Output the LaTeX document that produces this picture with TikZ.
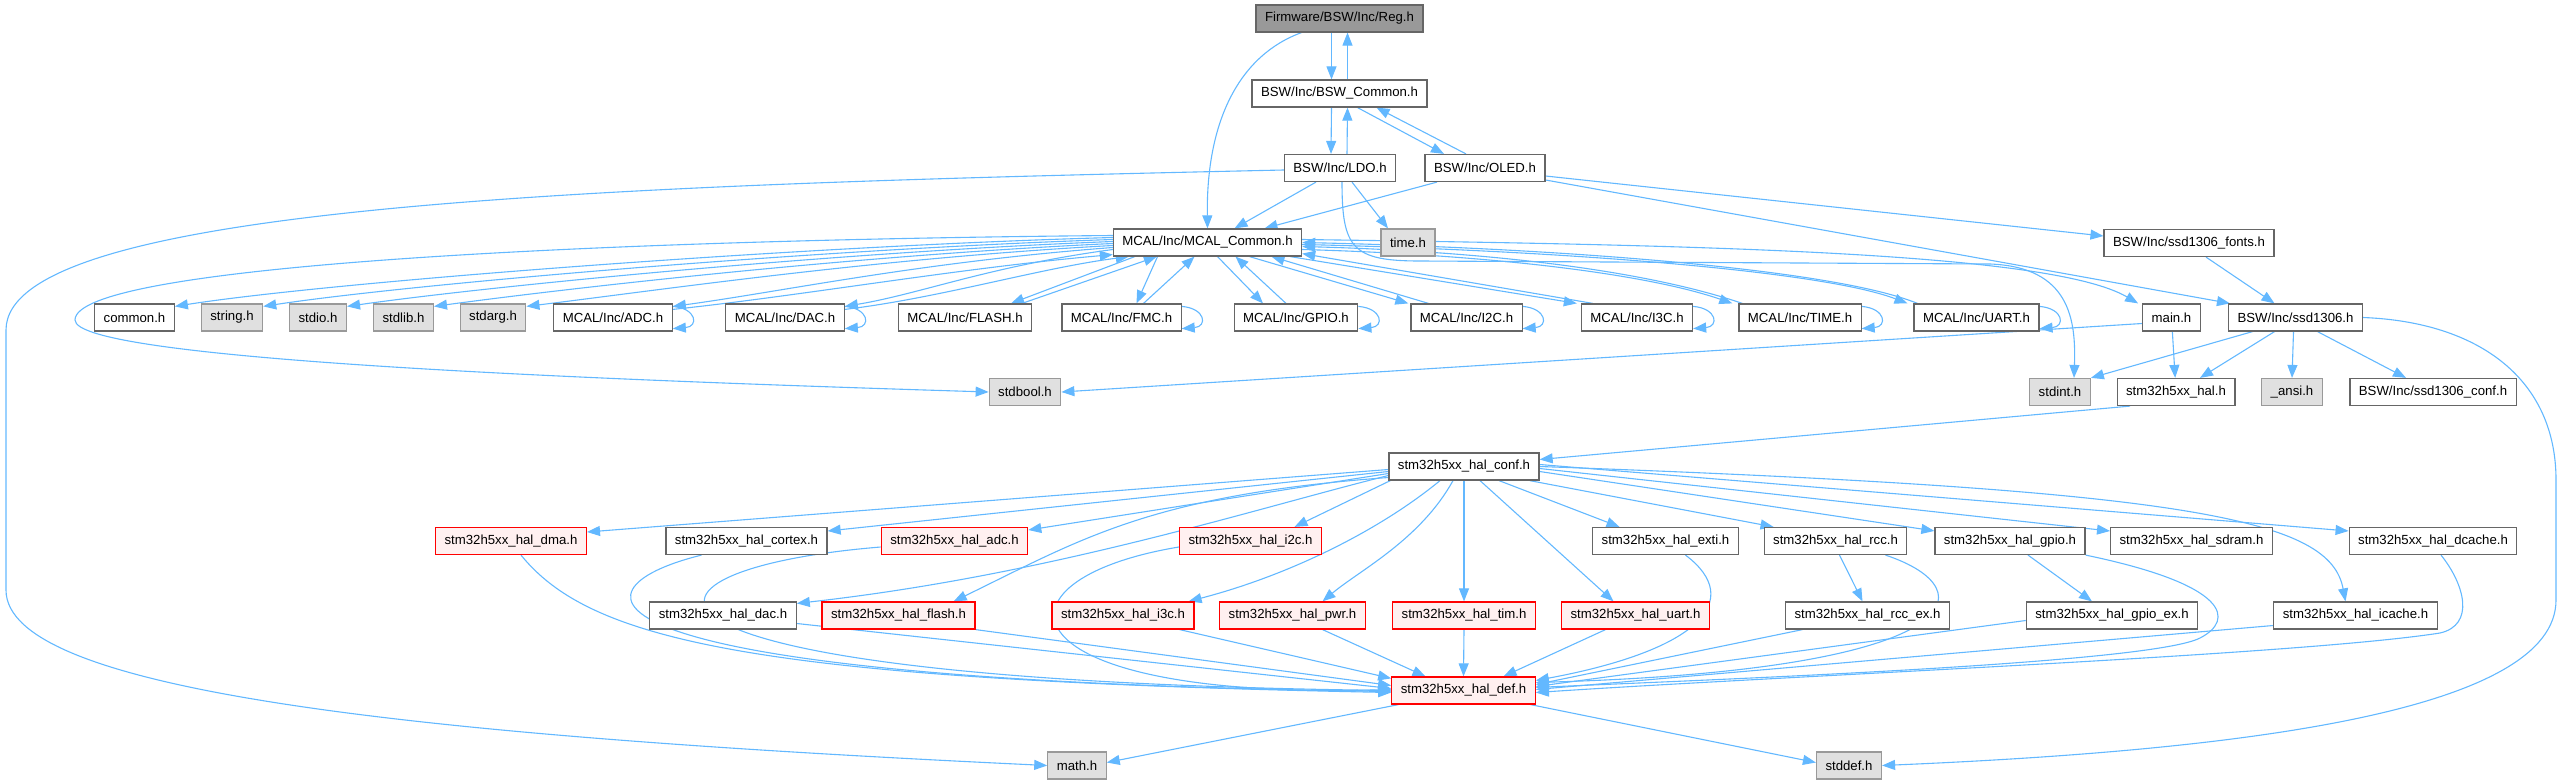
\documentclass[tikz,border=0pt]{standalone}
\usepackage{fontspec}
\setmainfont{Liberation Sans}
\usetikzlibrary{arrows.meta,backgrounds}
\definecolor{deplink}{RGB}{99,184,255}
\definecolor{boxline}{RGB}{102,102,102}
\definecolor{sysline}{RGB}{153,153,153}
\definecolor{sysfill}{RGB}{224,224,224}
\definecolor{rootfill}{RGB}{153,153,153}
\definecolor{redfill}{RGB}{255,240,240}

\tikzset{
  incbox/.style={draw=boxline, fill=white, line width=1.2pt, inner xsep=9pt, inner ysep=0pt,
    minimum height=27pt, font=\fontsize{13.2pt}{15pt}\selectfont},
  sysbox/.style={incbox, draw=sysline, fill=sysfill},
  redbox/.style={incbox, draw=red, fill=redfill},
  rootbox/.style={incbox, draw=boxline, fill=rootfill},
  dep/.style={draw=deplink, line width=1.1pt, -{Triangle[length=13pt,width=10pt]}},
}

\begin{document}
\begin{tikzpicture}[x=1pt, y=-1pt]
\useasboundingbox (0,0) rectangle (2562,784);
\node[rootbox] (reg) at (1339.5,18.5) {Firmware/BSW/Inc/Reg.h};
\node[incbox] (bswcommon) at (1339.5,93.5) {BSW/Inc/BSW\_Common.h};
\node[incbox] (ldo) at (1340,168) {BSW/Inc/LDO.h};
\node[incbox] (oled) at (1485,168) {BSW/Inc/OLED.h};
\node[incbox] (mcalcommon) at (1207.5,242.5) {MCAL/Inc/MCAL\_Common.h};
\node[sysbox] (timeh) at (1408,242.5) {time.h};
\node[incbox] (sfonts) at (2189,243) {BSW/Inc/ssd1306\_fonts.h};
\node[incbox] (commonh) at (134.5,317.5) {common.h};
\node[sysbox] (stringh) at (232,317.5) {string.h};
\node[sysbox] (stdioh) at (318,317.5) {stdio.h};
\node[sysbox] (stdlibh) at (403.5,317.5) {stdlib.h};
\node[sysbox] (stdargh) at (493,317.5) {stdarg.h};
\node[incbox] (madc) at (613,317.5) {MCAL/Inc/ADC.h};
\node[incbox] (mdac) at (785,317.5) {MCAL/Inc/DAC.h};
\node[incbox] (mflash) at (965,317.5) {MCAL/Inc/FLASH.h};
\node[incbox] (mfmc) at (1121.5,317.5) {MCAL/Inc/FMC.h};
\node[incbox] (mgpio) at (1296,317.5) {MCAL/Inc/GPIO.h};
\node[incbox] (mi2c) at (1466.5,317.5) {MCAL/Inc/I2C.h};
\node[incbox] (mi3c) at (1637,317.5) {MCAL/Inc/I3C.h};
\node[incbox] (mtime) at (1800,317.5) {MCAL/Inc/TIME.h};
\node[incbox] (muart) at (1976.5,317.5) {MCAL/Inc/UART.h};
\node[incbox] (mainh) at (2171.5,317.5) {main.h};
\node[incbox] (ssd) at (2295.5,317.5) {BSW/Inc/ssd1306.h};
\node[sysbox] (stdbool) at (1025,392) {stdbool.h};
\node[sysbox] (stdint) at (2060,392) {stdint.h};
\node[incbox] (hal) at (2176,392) {stm32h5xx\_hal.h};
\node[sysbox] (ansi) at (2292,392) {\_ansi.h};
\node[incbox] (sconf) at (2433,392) {BSW/Inc/ssd1306\_conf.h};
\node[incbox] (halconf) at (1464,466.5) {stm32h5xx\_hal\_conf.h};
\node[redbox] (haldma) at (511,541) {stm32h5xx\_hal\_dma.h};
\node[incbox] (halcortex) at (746.5,541) {stm32h5xx\_hal\_cortex.h};
\node[redbox] (haladc) at (954.5,541) {stm32h5xx\_hal\_adc.h};
\node[redbox] (hali2c) at (1250.5,541) {stm32h5xx\_hal\_i2c.h};
\node[incbox] (halexti) at (1665.5,541) {stm32h5xx\_hal\_exti.h};
\node[incbox] (halrcc) at (1835.5,541) {stm32h5xx\_hal\_rcc.h};
\node[incbox] (halgpio) at (2010,541) {stm32h5xx\_hal\_gpio.h};
\node[incbox] (halsdram) at (2191.5,541) {stm32h5xx\_hal\_sdram.h};
\node[incbox] (haldcache) at (2433,541) {stm32h5xx\_hal\_dcache.h};
\node[incbox] (haldac) at (723,615.5) {stm32h5xx\_hal\_dac.h};
\node[redbox] (halflash) at (898.5,615.5) {stm32h5xx\_hal\_flash.h};
\node[redbox] (hali3c) at (1123,615.5) {stm32h5xx\_hal\_i3c.h};
\node[redbox] (halpwr) at (1292.5,615.5) {stm32h5xx\_hal\_pwr.h};
\node[redbox] (haltim) at (1464,615.5) {stm32h5xx\_hal\_tim.h};
\node[redbox] (haluart) at (1635.5,615.5) {stm32h5xx\_hal\_uart.h};
\node[incbox] (halrccex) at (1867.5,615.5) {stm32h5xx\_hal\_rcc\_ex.h};
\node[incbox] (halgpioex) at (2112,615.5) {stm32h5xx\_hal\_gpio\_ex.h};
\node[incbox] (halicache) at (2355.5,615.5) {stm32h5xx\_hal\_icache.h};
\node[redbox] (haldef) at (1463.5,690.5) {stm32h5xx\_hal\_def.h};
\node[sysbox] (mathh) at (1077,765.5) {math.h};
\node[sysbox] (stddefh) at (1849,765.5) {stddef.h};

\begin{pgfonlayer}{background}
\draw[dep] ([xshift=-8]reg.south) -- ([xshift=-8]bswcommon.north);
\draw[dep] ([xshift=8]bswcommon.north) -- ([xshift=8]reg.south);
\draw[dep] ([xshift=-38]reg.south) .. controls (1240,55) and (1206,120) .. (mcalcommon.north);
\draw[dep] ([xshift=-8]bswcommon.south) -- ([xshift=-9]ldo.north);
\draw[dep] ([xshift=7]ldo.north) -- ([xshift=8]bswcommon.south);
\draw[dep] ([xshift=18]bswcommon.south) -- ([xshift=-41]oled.north);
\draw[dep] ([xshift=-19]oled.north) -- ([xshift=37]bswcommon.south);
\draw[dep] ([xshift=-24]ldo.south) -- ([xshift=27]mcalcommon.north);
\draw[dep] ([xshift=12]ldo.south) -- ([xshift=-20]timeh.north);
\draw[dep] ([yshift=-2]ldo.west) .. controls (600,185) and (6,205) .. (6,330) -- (6,590) .. controls (6,690) and (400,735) .. (mathh.west);
\draw[dep] ([xshift=2]ldo.south) .. controls (1342,248) and (1352,261) .. (1420,261) -- (1990,264) .. controls (2070,267) and (2076,320) .. ([xshift=14]stdint.north);
\draw[dep] ([xshift=-48]oled.south) -- ([xshift=57]mcalcommon.north);
\draw[dep] ([yshift=-8]oled.east) -- ([yshift=7]sfonts.west);
\draw[dep] ([yshift=-12]oled.east) -- ([xshift=2]ssd.north west);
\draw[dep] ([xshift=17]sfonts.south) -- ([xshift=-21]ssd.north);
\draw[dep] ([xshift=-43]ssd.south) -- (stdint.north east);
\draw[dep] ([xshift=-21]ssd.south) -- ([xshift=24]hal.north);
\draw[dep] ([xshift=-2]ssd.south) -- (ansi.north);
\draw[dep] ([xshift=22]ssd.south) -- ([xshift=-27]sconf.north);
\draw[dep] (ssd.east) .. controls (2480,322) and (2556,380) .. (2556,480) -- (2556,600) .. controls (2556,710) and (2250,750) .. (stddefh.east);
\draw[dep] (mainh) -- (hal);
\draw[dep] ([yshift=-6]mainh.west) -- (stdbool.east);
\draw[dep] ([xshift=-46]hal.south) -- ([yshift=7]halconf.east);

\draw[dep] ([yshift=7]mcalcommon.west) .. controls (600,240) and (75,265) .. (75,320) .. controls (75,360) and (600,380) .. (stdbool.west);
\draw[dep] ([yshift=5]mcalcommon.west) .. controls (800,246) and (330,282) .. ([yshift=-3]commonh.north east);
\draw[dep] ([yshift=3]mcalcommon.west) .. controls (820,249) and (410,284) .. ([yshift=-3]stringh.north east);
\draw[dep] ([yshift=1]mcalcommon.west) .. controls (840,252) and (490,286) .. ([yshift=-3]stdioh.north east);
\draw[dep] ([yshift=-1]mcalcommon.west) .. controls (860,255) and (570,288) .. ([yshift=-3]stdlibh.north east);
\draw[dep] ([yshift=-3]mcalcommon.west) .. controls (880,258) and (660,290) .. ([yshift=-3]stdargh.north east);
\draw[dep] ([yshift=-5]mcalcommon.west) .. controls (920,262) and (780,292) .. ([yshift=-3]madc.north east);
\draw[dep] ([yshift=-6]madc.north east) .. controls (800,296) and (960,268) .. ([yshift=2]mcalcommon.south west);
\draw[dep] ([yshift=-7]mcalcommon.west) .. controls (990,266) and (920,294) .. ([yshift=-3]mdac.north east);
\draw[dep] ([yshift=-6]mdac.north east) .. controls (940,298) and (1040,268) .. ([xshift=16]mcalcommon.south west);
\draw[dep] ([xshift=22]mcalcommon.south west) -- ([xshift=46]mflash.north);
\draw[dep] ([xshift=57]mflash.north) -- ([xshift=44]mcalcommon.south west);
\draw[dep] ([xshift=-50]mcalcommon.south) -- ([xshift=15]mfmc.north);
\draw[dep] ([xshift=22]mfmc.north) -- ([xshift=-13]mcalcommon.south);
\draw[dep] ([xshift=10]mcalcommon.south) -- ([xshift=-33]mgpio.north);
\draw[dep] ([xshift=-10]mgpio.north) -- ([xshift=28]mcalcommon.south);
\draw[dep] ([xshift=42]mcalcommon.south) -- ([xshift=-2]mi2c.north west);
\draw[dep] ([xshift=-38]mi2c.north) -- ([xshift=64]mcalcommon.south);
\draw[dep] ([xshift=-12]mcalcommon.south east) -- ([xshift=-4]mi3c.north west);
\draw[dep] ([xshift=12]mi3c.north west) -- ([yshift=3]mcalcommon.south east);
\draw[dep] ([yshift=-7]mcalcommon.east) .. controls (1500,255) and (1650,275) .. ([xshift=-6]mtime.north west);
\draw[dep] ([xshift=4]mtime.north west) .. controls (1650,272) and (1500,252) .. ([yshift=-4]mcalcommon.east);
\draw[dep] ([yshift=-2]mcalcommon.east) .. controls (1550,250) and (1820,270) .. ([xshift=-6]muart.north west);
\draw[dep] ([xshift=4]muart.north west) .. controls (1830,268) and (1550,248) .. (mcalcommon.east);
\draw[dep] ([yshift=3]mcalcommon.east) .. controls (1700,245) and (2050,252) .. ([xshift=-4]mainh.north west);
\draw[dep] ([yshift=-3]madc.north east) .. controls +(24,2) and +(26,-2) .. ([yshift=3]madc.south east);
\draw[dep] ([yshift=-3]mdac.north east) .. controls +(24,2) and +(26,-2) .. ([yshift=3]mdac.south east);
\draw[dep] ([yshift=-3]mfmc.north east) .. controls +(24,2) and +(26,-2) .. ([yshift=3]mfmc.south east);
\draw[dep] ([yshift=-3]mgpio.north east) .. controls +(24,2) and +(26,-2) .. ([yshift=3]mgpio.south east);
\draw[dep] ([yshift=-3]mi2c.north east) .. controls +(24,2) and +(26,-2) .. ([yshift=3]mi2c.south east);
\draw[dep] ([yshift=-3]mi3c.north east) .. controls +(24,2) and +(26,-2) .. ([yshift=3]mi3c.south east);
\draw[dep] ([yshift=-3]mtime.north east) .. controls +(24,2) and +(26,-2) .. ([yshift=3]mtime.south east);
\draw[dep] ([yshift=-3]muart.north east) .. controls +(24,2) and +(26,-2) .. ([yshift=3]muart.south east);

\draw[dep] ([yshift=-3]halconf.west) -- ([yshift=9]haldma.east);
\draw[dep] ([yshift=-5]halconf.west) -- ([yshift=10]halcortex.east);
\draw[dep] ([yshift=-7]halconf.west) -- ([yshift=11]haladc.east);
\draw[dep] ([xshift=2]halconf.south west) -- ([xshift=44]hali2c.north);
\draw[dep] ([yshift=-9]halconf.west) .. controls (1250,510) and (1050,575) .. ([yshift=-2]haldac.north east);
\draw[dep] ([yshift=-11]halconf.west) .. controls (1150,495) and (1080,540) .. ([xshift=-22]halflash.north east);
\draw[dep] ([xshift=-24]halconf.south) .. controls (1380,530) and (1290,575) .. ([xshift=-6]hali3c.north east);
\draw[dep] ([xshift=-11]halconf.south) .. controls (1420,540) and (1360,570) .. ([xshift=30]halpwr.north);
\draw[dep] (halconf.south) -- (haltim.north);
\draw[dep] ([xshift=16]halconf.south) -- ([xshift=-22]haluart.north);
\draw[dep] ([xshift=35]halconf.south) -- ([xshift=-46]halexti.north);
\draw[dep] ([xshift=-10]halconf.south east) -- ([xshift=10]halrcc.north west);
\draw[dep] ([yshift=-5]halconf.east) -- ([yshift=-4]halgpio.north west);
\draw[dep] ([yshift=-2]halconf.east) -- ([yshift=10]halsdram.west);
\draw[dep] ([yshift=2]halconf.east) -- ([yshift=10]haldcache.west);
\draw[dep] (halconf.east) .. controls (2200,490) and (2330,520) .. ([xshift=-10]halicache.north);

\draw[dep] ([xshift=10]haldma.south) .. controls (590,640) and (750,680) .. ([yshift=-2]haldef.west);
\draw[dep] ([xshift=-45]halcortex.south) .. controls (560,590) and (560,680) .. ([yshift=-1]haldef.west);
\draw[dep] ([yshift=-6]haladc.west) .. controls (600,570) and (580,680) .. (haldef.west);
\draw[dep] ([yshift=-6]hali2c.west) .. controls (980,580) and (1000,700) .. ([yshift=1]haldef.west);
\draw[dep] ([yshift=-8]haldac.east) -- ([yshift=2]haldef.west);
\draw[dep] (halflash.south east) -- ([yshift=5]haldef.west);
\draw[dep] ([xshift=-15]hali3c.south east) -- ([yshift=-2]haldef.north west);
\draw[dep] ([xshift=30]halpwr.south) -- ([xshift=-38]haldef.north);
\draw[dep] (haltim.south) -- (haldef.north);
\draw[dep] ([xshift=-30]haluart.south) -- ([xshift=40]haldef.north);
\draw[dep] ([xshift=20]halexti.south) .. controls (1745,600) and (1700,650) .. ([yshift=10]haldef.east);
\draw[dep] ([xshift=4]halrcc.south) -- ([xshift=-5]halrccex.north);
\draw[dep] ([xshift=50]halrcc.south) .. controls (1990,590) and (1970,670) .. ([yshift=8]haldef.east);
\draw[dep] ([xshift=-65]halrccex.south) -- ([yshift=6]haldef.east);
\draw[dep] ([xshift=18]halgpio.south) -- ([xshift=-20]halgpioex.north);
\draw[dep] (halgpio.south east) .. controls (2230,585) and (2235,620) .. (2200,638) .. controls (2150,664) and (1700,680) .. ([yshift=3]haldef.east);
\draw[dep] ([yshift=-5]halgpioex.west) -- ([yshift=4]haldef.east);
\draw[dep] ([yshift=-10]halicache.west) -- ([yshift=1]haldef.east);
\draw[dep] ([xshift=8]haldcache.south) .. controls (2465,585) and (2475,625) .. (2440,633) .. controls (2300,655) and (1800,675) .. ([yshift=-2]haldef.east);
\draw[dep] ([xshift=-65]haldef.south) -- ([yshift=3]mathh.east);
\draw[dep] ([xshift=67]haldef.south) -- ([yshift=3]stddefh.west);
\end{pgfonlayer}
\end{tikzpicture}
\end{document}
